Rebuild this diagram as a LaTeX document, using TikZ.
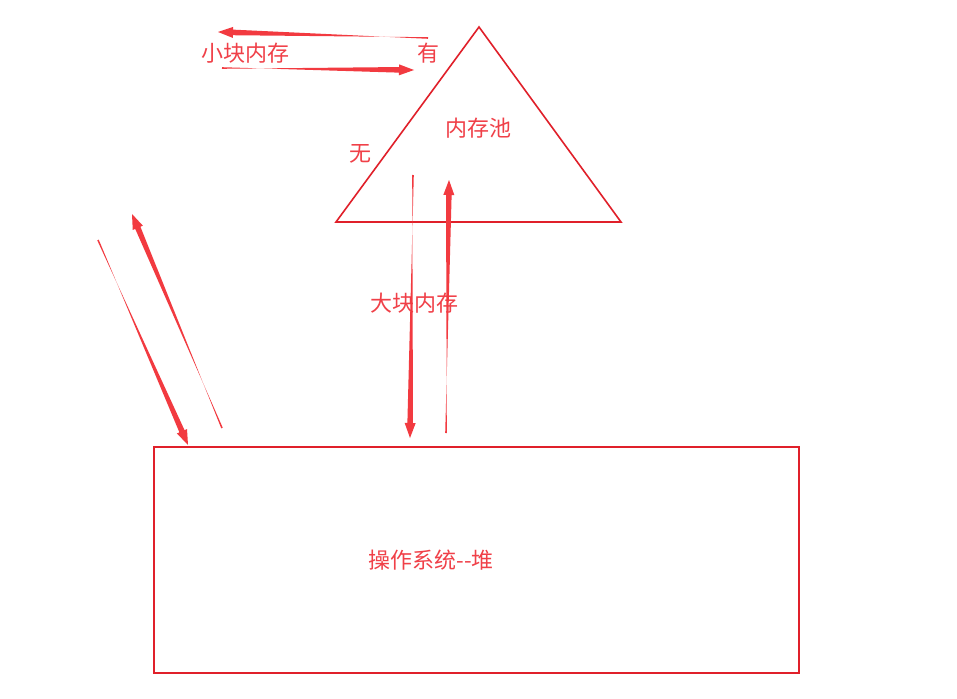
\documentclass[tikz,border=0pt]{standalone}
\usepackage{fontspec}
\newfontfamily\cjk{Noto Sans CJK SC}
\usetikzlibrary{calc}
\definecolor{lred}{HTML}{E0202A}
\definecolor{tred}{HTML}{F04048}
\definecolor{ared}{HTML}{F23A40}
\newcommand\taparrow[2]{%
  \coordinate (hb) at ($(#2)!15pt!(#1)$);
  \fill[ared] ($(#1)!0.8pt!90:(#2)$) -- ($(hb)!2.8pt!-90:(#2)$) -- ($(hb)!5.5pt!-90:(#2)$) -- (#2)
    -- ($(hb)!5.5pt!90:(#2)$) -- ($(hb)!2.8pt!90:(#2)$) -- ($(#1)!0.8pt!-90:(#2)$) -- cycle;}
\begin{document}
\begin{tikzpicture}[x=1pt,y=-1pt,
  shapeline/.style={draw=lred,line width=1.6pt},
  lbl/.style={text=tred,font=\cjk\fontsize{22}{22}\selectfont,inner sep=0pt}]
\useasboundingbox[fill=white] (0,0) rectangle (957,698);
\draw[shapeline] (479,27) -- (621,222) -- (336,222) -- cycle;
\node[draw=lred,line width=1.6pt,minimum width=645pt,minimum height=226pt,anchor=north west,inner sep=0pt] (os) at (153,446) {};
\node[lbl] (pool) at (478,128) {内存池};
\node[lbl] (wu) at (360,154) {无};
\node[lbl] (you) at (428,53) {有};
\node[lbl] (small) at (245,53) {小块内存};
\node[lbl] (big) at (414,303) {大块内存};
\node[lbl] at (os.center) [xshift=-45pt] {操作系统--堆};
\coordinate (s1) at (428,38); \coordinate (e1) at (218,32);
\coordinate (s2) at (222,68); \coordinate (e2) at (414,70);
\coordinate (s3) at (413,175); \coordinate (e3) at (410,438);
\coordinate (s4) at (446,433); \coordinate (e4) at (449,180);
\coordinate (s5) at (98,240); \coordinate (e5) at (188,445);
\coordinate (s6) at (222,428); \coordinate (e6) at (132,214);
\taparrow{s1}{e1}
\taparrow{s2}{e2}
\taparrow{s3}{e3}
\taparrow{s4}{e4}
\taparrow{s5}{e5}
\taparrow{s6}{e6}
\end{tikzpicture}
\end{document}
